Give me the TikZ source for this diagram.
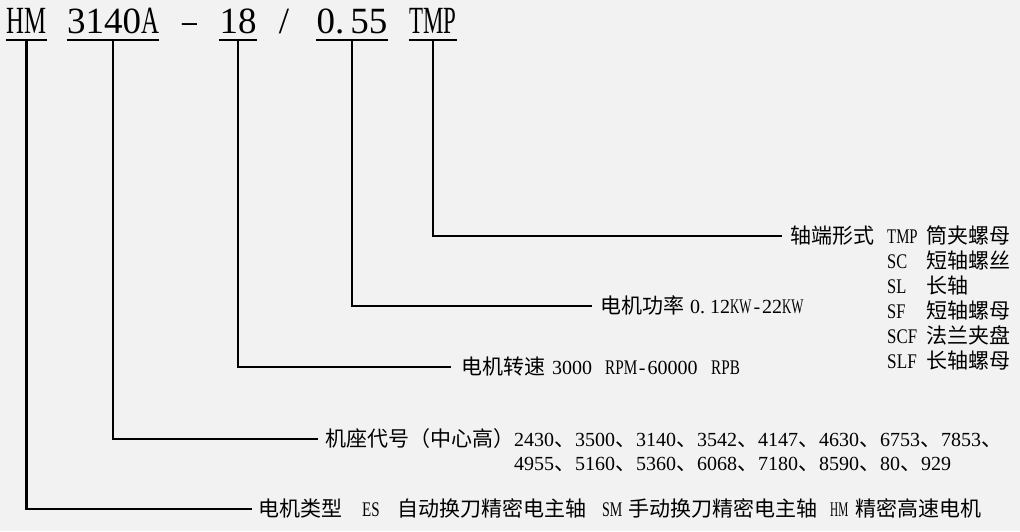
\documentclass[tikz,border=0pt]{standalone}
\usepackage{fontspec}
\usepackage{graphicx}
\setmainfont{Liberation Serif}
\newfontfamily\cjk{Noto Sans CJK SC}
\newcommand{\zh}[1]{{\cjk\fontsize{21}{24}\selectfont #1}}
\newcommand{\cnd}[2][0.76]{\scalebox{#1}[1.04]{#2}}
\definecolor{bg}{HTML}{F2F2F2}
\begin{document}
\begin{tikzpicture}[x=1pt,y=-1pt,
  conn/.style={line width=2.6pt, black},
  ul/.style={line width=2.2pt, black},
  ttl/.style={font=\fontsize{37}{40}\selectfont, inner sep=0pt, text height=25pt, text depth=6.5pt, anchor=base},
  lbl/.style={font=\fontsize{20}{24}\selectfont, inner ysep=0pt, text height=20pt, text depth=5pt, anchor=west},
  txt/.style={font=\fontsize{20}{24}\selectfont, inner sep=0pt, anchor=base west},
]
\useasboundingbox (0,0) rectangle (1020,531);
\fill[bg] (0,0) rectangle (1020,531);

% title
\node[ttl, minimum width=33pt] (tHM) at (26.5,33.5) {\cnd[0.67]{HM}};
\node[ttl, minimum width=80pt] (tSeat) at (113,33.5) {3140\cnd[0.67]{A}};
\node[ttl] (tDash) at (189.5,33.5) {\cnd[0.8]{–}};
\node[ttl, minimum width=26pt] (tSpeed) at (238,33.5) {18};
\node[ttl] (tSlash) at (284,33.5) {/};
\node[ttl, minimum width=66pt] (tPower) at (352,33.5) {0.\kern6pt55};
\node[ttl, minimum width=40pt] (tShaft) at (433,33.5) {\cnd[0.62]{TMP}};
\foreach \n in {tHM,tSeat,tSpeed,tPower,tShaft}
  \draw[ul] (\n.south west) -- (\n.south east);

% labels
\node[lbl, inner xsep=8pt] (lShaft) at (782,236) {\zh{轴端形式}};
\node[lbl, inner xsep=8pt] (lPower) at (592,306) {\makebox[90pt][l]{\zh{电机功率}}0.\kern5pt 12\cnd[0.64]{KW}\makebox[10.6pt][c]{-}22\cnd[0.64]{KW}};
\node[lbl, inner xsep=10pt] (lSpeed) at (451,367) {\makebox[91pt][l]{\zh{电机转速}}\makebox[53pt][l]{3000}\makebox[31.8pt][l]{\cnd{RPM}}\makebox[10.6pt][c]{-}\makebox[63.6pt][l]{60000}\cnd{RPB}};
\node[lbl, inner xsep=7pt] (lSeat) at (318,439) {\zh{机座代号（中心高）}2430\zh{、}3500\zh{、}3140\zh{、}3542\zh{、}4147\zh{、}4630\zh{、}6753\zh{、}7853\zh{、}};
\node[txt] (lSeat2) at (514,470.5) {4955\zh{、}5160\zh{、}5360\zh{、}6068\zh{、}7180\zh{、}8590\zh{、}80\zh{、}929};
\node[lbl, inner xsep=6pt] (lType) at (252,509) {\makebox[104pt][l]{\zh{电机类型}}\makebox[35pt][l]{\cnd[0.75]{ES}}\makebox[205pt][l]{\zh{自动换刀精密电主轴}}\makebox[26pt][l]{\cnd[0.7]{SM}}\makebox[202pt][l]{\zh{手动换刀精密电主轴}}\makebox[25pt][l]{\cnd[0.56]{HM}}\zh{精密高速电机}};

% shaft-end table
\node[txt] (c1) at (887,243) {\cnd[0.74]{TMP}};
\node[txt] (d1) at (926,243) {\zh{筒夹螺母}};
\node[txt] (c2) at (887,268.1) {\cnd[0.82]{SC}};
\node[txt] (d2) at (926,268.1) {\zh{短轴螺丝}};
\node[txt] (c3) at (887,293.2) {\cnd[0.82]{SL}};
\node[txt] (d3) at (926,293.2) {\zh{长轴}};
\node[txt] (c4) at (887,318.3) {\cnd[0.82]{SF}};
\node[txt] (d4) at (926,318.3) {\zh{短轴螺母}};
\node[txt] (c5) at (887,343.4) {\cnd[0.84]{SCF}};
\node[txt] (d5) at (926,343.4) {\zh{法兰夹盘}};
\node[txt] (c6) at (887,368.5) {\cnd[0.86]{SLF}};
\node[txt] (d6) at (926,368.5) {\zh{长轴螺母}};

% connectors
\draw[conn] (tShaft.south) |- (lShaft.west);
\draw[conn] (tPower.south) |- (lPower.west);
\draw[conn] (tSpeed.south) |- (lSpeed.west);
\draw[conn] (tSeat.south) |- (lSeat.west);
\draw[conn] (tHM.south) |- (lType.west);
\end{tikzpicture}
\end{document}
